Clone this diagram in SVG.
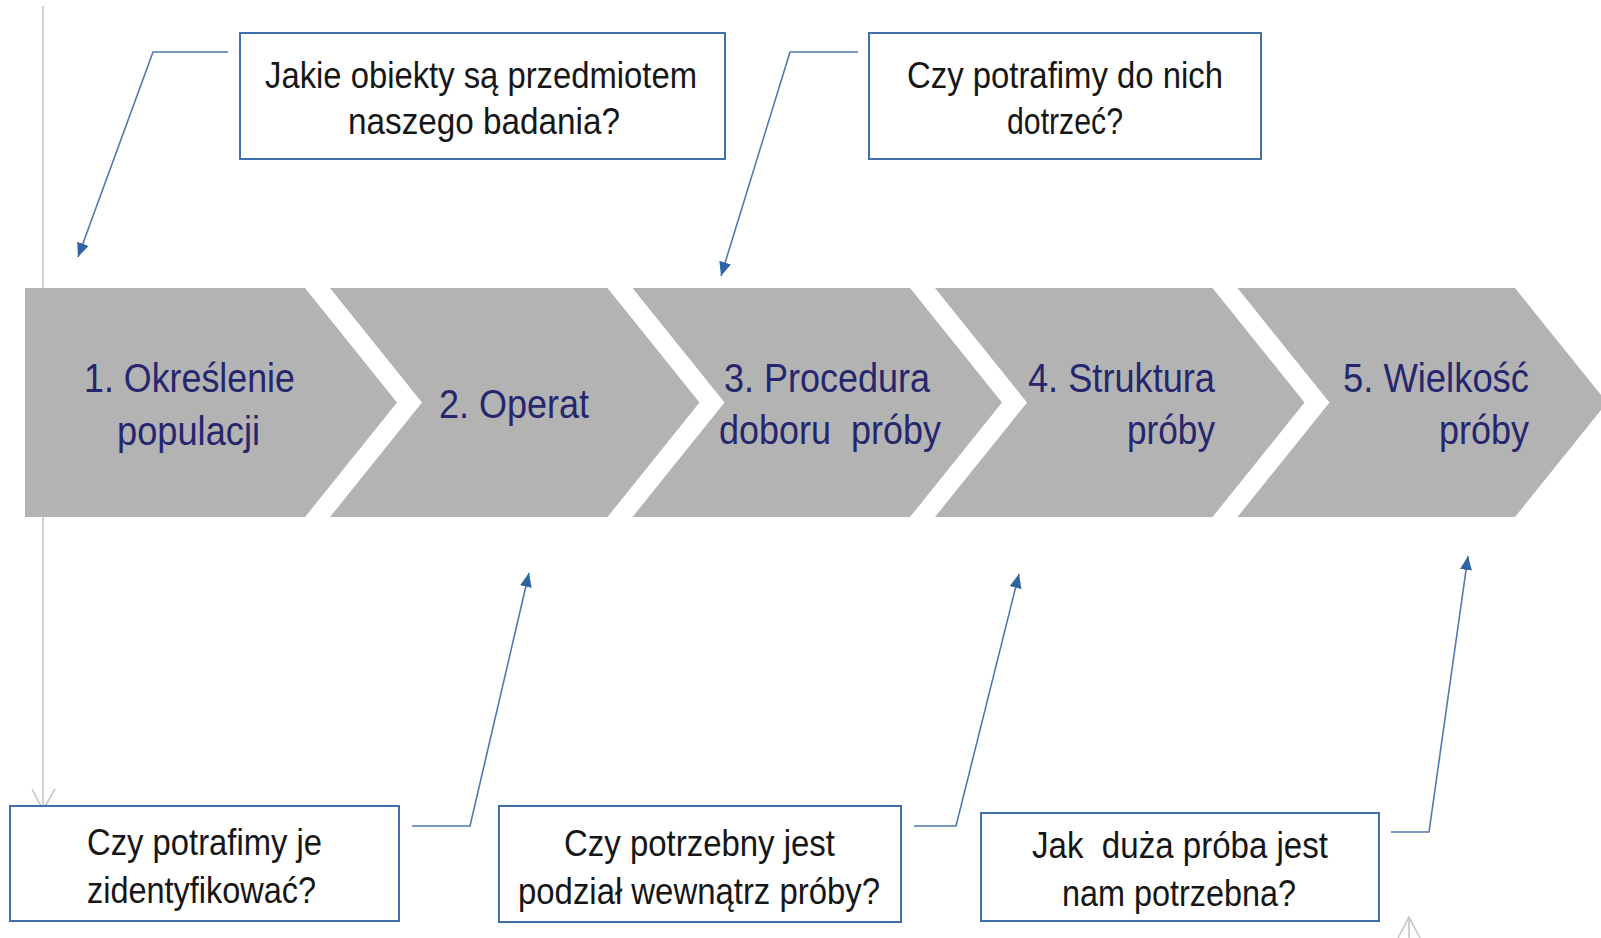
<svg xmlns="http://www.w3.org/2000/svg" width="1601" height="938" viewBox="0 0 1601 938">
<style>
.chev{fill:#b3b3b3;}
.ct{font-family:"Liberation Sans",Arial,sans-serif;font-size:41px;fill:#26266e;}
.box{fill:#ffffff;stroke:#3f6fa8;stroke-width:2;}
.bt{font-family:"Liberation Sans",Arial,sans-serif;font-size:36px;fill:#161616;}
.con{fill:none;stroke:#4f7ab0;stroke-width:1.6;}
.gray{fill:none;stroke:#c6c6c6;stroke-width:1.6;}
</style>
<defs>
<marker id="ah" markerUnits="userSpaceOnUse" markerWidth="16" markerHeight="14" refX="14" refY="6" orient="auto">
<path d="M0,0 L14,6 L0,12 Z" fill="#2f64a2"/>
</marker>
</defs>
<rect width="1601" height="938" fill="#ffffff"/>
<g id="guides">
<path class="gray" d="M43,6 V810"/>
<path class="gray" d="M32,789 L43,810 L55,789"/>
<path class="gray" d="M1409,917 V938"/>
<path class="gray" d="M1398,938 L1409,917 L1420,938"/>
</g>
<g id="step1">
<polygon class="chev" points="25,288 305,288 397,402.5 305,517 25,517"/>
<text class="ct" x="84" y="392" textLength="211" lengthAdjust="spacingAndGlyphs">1. Określenie</text>
<text class="ct" x="117" y="445" textLength="143" lengthAdjust="spacingAndGlyphs">populacji</text>
</g>
<g id="step2">
<polygon class="chev" points="330,288 607.5,288 699.5,402.5 607.5,517 330,517 422,402.5"/>
<text class="ct" x="439" y="418" textLength="150" lengthAdjust="spacingAndGlyphs">2. Operat</text>
</g>
<g id="step3">
<polygon class="chev" points="632.5,288 910,288 1002,402.5 910,517 632.5,517 724.5,402.5"/>
<text class="ct" x="724" y="392" textLength="206" lengthAdjust="spacingAndGlyphs">3. Procedura</text>
<text class="ct" x="719" y="444" textLength="222" lengthAdjust="spacingAndGlyphs" xml:space="preserve">doboru  próby</text>
</g>
<g id="step4">
<polygon class="chev" points="935,288 1212.5,288 1304.5,402.5 1212.5,517 935,517 1027,402.5"/>
<text class="ct" x="1028" y="392" textLength="187" lengthAdjust="spacingAndGlyphs">4. Struktura</text>
<text class="ct" x="1127" y="444" textLength="88" lengthAdjust="spacingAndGlyphs">próby</text>
</g>
<g id="step5">
<polygon class="chev" points="1237.5,288 1515,288 1607,402.5 1515,517 1237.5,517 1329.5,402.5"/>
<text class="ct" x="1343" y="392" textLength="186" lengthAdjust="spacingAndGlyphs">5. Wielkość</text>
<text class="ct" x="1439" y="444" textLength="90" lengthAdjust="spacingAndGlyphs">próby</text>
</g>
<g id="q1">
<rect class="box" x="240" y="33" width="485" height="126"/>
<text class="bt" x="265" y="88" textLength="432" lengthAdjust="spacingAndGlyphs">Jakie obiekty są przedmiotem</text>
<text class="bt" x="348" y="134" textLength="272" lengthAdjust="spacingAndGlyphs">naszego badania?</text>
</g>
<g id="q3">
<rect class="box" x="869" y="33" width="392" height="126"/>
<text class="bt" x="907" y="88" textLength="316" lengthAdjust="spacingAndGlyphs">Czy potrafimy do nich</text>
<text class="bt" x="1007" y="134" textLength="116" lengthAdjust="spacingAndGlyphs">dotrzeć?</text>
</g>
<g id="q2">
<rect class="box" x="10" y="806" width="389" height="115"/>
<text class="bt" x="87" y="855" textLength="235" lengthAdjust="spacingAndGlyphs">Czy potrafimy je</text>
<text class="bt" x="87" y="903" textLength="229" lengthAdjust="spacingAndGlyphs">zidentyfikować?</text>
</g>
<g id="q4">
<rect class="box" x="499" y="806" width="402" height="116"/>
<text class="bt" x="564" y="856" textLength="271" lengthAdjust="spacingAndGlyphs">Czy potrzebny jest</text>
<text class="bt" x="518" y="904" textLength="362" lengthAdjust="spacingAndGlyphs">podział wewnątrz próby?</text>
</g>
<g id="q5">
<rect class="box" x="981" y="813" width="398" height="108"/>
<text class="bt" x="1032" y="858" textLength="296" lengthAdjust="spacingAndGlyphs" xml:space="preserve">Jak  duża próba jest</text>
<text class="bt" x="1062" y="906" textLength="234" lengthAdjust="spacingAndGlyphs">nam potrzebna?</text>
</g>
<g id="connectors">
<path class="con" d="M228,52 H153 L78,257" marker-end="url(#ah)"/>
<path class="con" d="M858,52 H790 L721,276" marker-end="url(#ah)"/>
<path class="con" d="M412,826 H470 L529,573" marker-end="url(#ah)"/>
<path class="con" d="M914,826 H956 L1019,574" marker-end="url(#ah)"/>
<path class="con" d="M1391,832 H1429 L1468,556" marker-end="url(#ah)"/>
</g>
</svg>
